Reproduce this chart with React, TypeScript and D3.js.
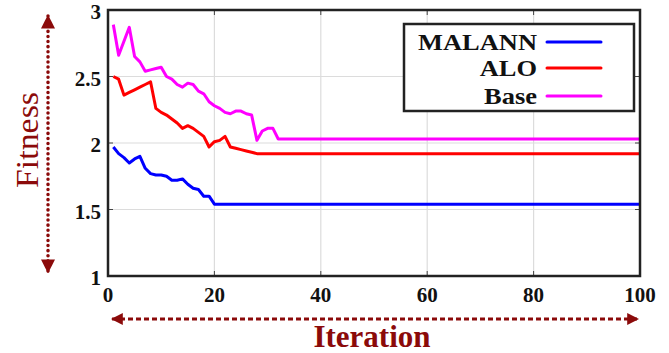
import React from 'react';
import * as d3 from 'd3';

// iteration / fitness breakpoints
const malannIter = [1, 2, 3, 4, 5, 6, 7, 8, 9, 10, 11, 12, 13, 14, 15, 16, 17, 18, 19, 20, 100];
const malannFit = [1.97, 1.92, 1.89, 1.85, 1.88, 1.9, 1.81, 1.77, 1.76, 1.76, 1.75, 1.72, 1.72, 1.73, 1.69, 1.66, 1.65, 1.6, 1.6, 1.54, 1.54];

const aloIter = [1, 2, 3, 4, 5, 6, 7, 8, 9, 10, 11, 12, 13, 14, 15, 16, 17, 18, 19, 20, 21, 22, 23, 24, 25, 26, 27, 28, 100];
const aloFit = [2.5, 2.48, 2.36, 2.38, 2.4, 2.42, 2.44, 2.46, 2.26, 2.23, 2.21, 2.18, 2.15, 2.11, 2.13, 2.11, 2.08, 2.05, 1.97, 2.01, 2.02, 2.05, 1.97, 1.96, 1.95, 1.94, 1.93, 1.92, 1.92];

const baseIter = [1, 2, 4, 5, 6, 7, 8, 9, 10, 11, 12, 13, 14, 15, 16, 17, 18, 19, 20, 21, 22, 23, 24, 25, 26, 27, 28, 29, 30, 31, 32, 100];
const baseFit = [2.89, 2.66, 2.87, 2.65, 2.61, 2.54, 2.55, 2.56, 2.57, 2.5, 2.48, 2.44, 2.42, 2.45, 2.44, 2.39, 2.37, 2.31, 2.28, 2.26, 2.23, 2.22, 2.24, 2.24, 2.22, 2.21, 2.02, 2.09, 2.11, 2.11, 2.03, 2.03];

const seriesNames = ['MALANN', 'ALO', 'Base'];
const seriesColors = ['#0000ff', '#ff0000', '#ff00ff'];
const xTicks = [0, 20, 40, 60, 80, 100];
const yTicks = [1, 1.5, 2, 2.5, 3];

const W = 669;
const H = 353;
const left = 108;
const right = 640;
const top = 10;
const bottom = 276;
const axisRed = '#8b0a0a';
const serif = '"Liberation Serif", "Times New Roman", serif';

export default function App() {
  const x = d3.scaleLinear().domain([0, 100]).range([left, right]);
  const y = d3.scaleLinear().domain([1, 3]).range([bottom, top]);

  const line = d3
    .line<[number, number]>()
    .x((d) => x(d[0]))
    .y((d) => y(d[1]));

  const series = [
    d3.zip(malannIter, malannFit) as [number, number][],
    d3.zip(aloIter, aloFit) as [number, number][],
    d3.zip(baseIter, baseFit) as [number, number][]
  ];

  const legendX0 = 547;
  const legendX1 = 601;
  const legendY = [42, 68, 96];

  return (
    <svg
      width={W}
      height={H}
      style={{ position: 'absolute', left: 0, top: 0, background: '#fff' }}
    >
      <defs>
        <marker id="ah" viewBox="0 0 10 10" refX="9" refY="5" markerWidth="4" markerHeight="4" orient="auto-start-reverse">
          <path d="M0,0 L10,5 L0,10 z" fill={axisRed} />
        </marker>
      </defs>

      {/* grid */}
      {xTicks.slice(1, -1).map((t) => (
        <line key={'gx' + t} x1={x(t)} x2={x(t)} y1={top} y2={bottom} stroke="#dcdcdc" strokeWidth={1.2} />
      ))}
      {yTicks.slice(1, -1).map((t) => (
        <line key={'gy' + t} x1={left} x2={right} y1={y(t)} y2={y(t)} stroke="#dcdcdc" strokeWidth={1.2} />
      ))}

      {/* inner ticks */}
      {xTicks.slice(1, -1).map((t) => (
        <g key={'tx' + t}>
          <line x1={x(t)} x2={x(t)} y1={bottom} y2={bottom - 5} stroke="#444" />
          <line x1={x(t)} x2={x(t)} y1={top} y2={top + 5} stroke="#444" />
        </g>
      ))}
      {yTicks.slice(1, -1).map((t) => (
        <g key={'ty' + t}>
          <line x1={left} x2={left + 5} y1={y(t)} y2={y(t)} stroke="#444" />
          <line x1={right} x2={right - 5} y1={y(t)} y2={y(t)} stroke="#444" />
        </g>
      ))}

      {/* series */}
      {series.map((s, i) => (
        <path key={seriesNames[i]} d={line(s) || ''} fill="none" stroke={seriesColors[i]} strokeWidth={3} strokeLinejoin="round" />
      ))}

      {/* frame */}
      <rect x={left} y={top} width={right - left} height={bottom - top} fill="none" stroke="#222" strokeWidth={2.5} />

      {/* tick labels */}
      {xTicks.map((t) => (
        <text key={'lx' + t} x={x(t)} y={302} textAnchor="middle" fontFamily={serif} fontWeight="bold" fontSize={21} fill="#111">
          {t}
        </text>
      ))}
      {yTicks.map((t) => (
        <text key={'ly' + t} x={101} y={y(t) + 9} textAnchor="end" fontFamily={serif} fontWeight="bold" fontSize={21} fill="#111">
          {t}
        </text>
      ))}

      {/* legend */}
      <rect x={404} y={24} width={230} height={87} fill="#fff" stroke="#222" strokeWidth={2.5} />
      {seriesNames.map((n, i) => (
        <g key={'lg' + n}>
          <g transform="translate(537,0) scale(1.15,1) translate(-537,0)">
            <text x={537} y={legendY[i] + 8} textAnchor="end" fontFamily={serif} fontWeight="bold" fontSize={23} fill="#111">
              {n}
            </text>
          </g>
          <line x1={legendX0} x2={legendX1} y1={legendY[i]} y2={legendY[i]} stroke={seriesColors[i]} strokeWidth={3} strokeLinecap="round" />
        </g>
      ))}

      {/* axis arrows */}
      <line x1={112} x2={638} y1={319} y2={319} stroke={axisRed} strokeWidth={3} strokeDasharray="5 3" markerStart="url(#ah)" markerEnd="url(#ah)" />
      <line x1={48} x2={48} y1={16} y2={272} stroke={axisRed} strokeWidth={3.5} strokeDasharray="0.1 5" strokeLinecap="round" markerStart="url(#ah)" markerEnd="url(#ah)" />

      <text x={372} y={347} textAnchor="middle" fontFamily={serif} fontWeight="bold" fontSize={31} fill={axisRed}>
        Iteration
      </text>
      <text
        transform="translate(38,140) rotate(-90)"
        textAnchor="middle"
        fontFamily={serif}
        fontSize={31}
        textLength={96}
        lengthAdjust="spacingAndGlyphs"
        fill={axisRed}
      >
        Fitness
      </text>
    </svg>
  );
}
